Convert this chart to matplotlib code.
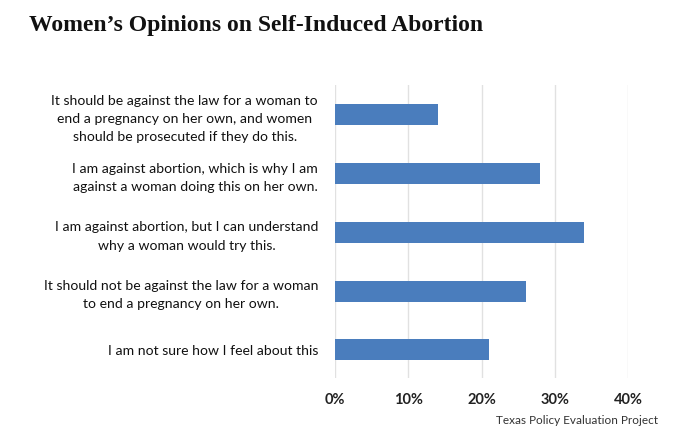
import matplotlib
matplotlib.use("Agg")
import matplotlib.pyplot as plt
from matplotlib.ticker import FuncFormatter

categories = [
    "It should be against the law for a woman to\nend a pregnancy on her own, and women\nshould be prosecuted if they do this.",
    "I am against abortion, which is why I am\nagainst a woman doing this on her own.",
    "I am against abortion, but I can understand\nwhy a woman would try this.",
    "It should not be against the law for a woman\nto end a pregnancy on her own.",
    "I am not sure how I feel about this",
]
values = [14, 28, 34, 26, 21]
xticks = [0, 10, 20, 30, 40]

title = "Women\u2019s Opinions on Self-Induced Abortion"
source = "Texas Policy Evaluation Project"

fig = plt.figure(figsize=(6.82, 4.41), dpi=100)
ax = fig.add_axes([0.4908, 0.1429, 0.4306, 0.6644])

ypos = list(range(len(categories)))
ax.barh(ypos, values, height=0.36, color="#4A7DBD", zorder=3)

ax.set_xlim(0, 40)
ax.set_ylim(4.48, -0.51)
ax.set_xticks(xticks)
ax.xaxis.set_major_formatter(FuncFormatter(lambda v, p: f"{int(v)}%"))
ax.set_yticks(ypos)
ax.set_yticklabels(categories, fontfamily="Lato", fontsize=10.05, color="#111111",
                   multialignment="center", linespacing=1.62)
for lbl in ax.get_xticklabels():
    lbl.set_fontfamily("Lato")
    lbl.set_fontweight("bold")
    lbl.set_fontsize(10.5)
    lbl.set_color("#222222")

ax.tick_params(axis="both", length=0)
ax.tick_params(axis="y", pad=12)
ax.tick_params(axis="x", pad=11)
ax.grid(axis="x", color="#e1e1e1", linewidth=1, zorder=0)
for s in ax.spines.values():
    s.set_visible(False)

fig.text(29 / 682, 1 - 25 / 441, title, fontfamily="Liberation Serif",
         fontweight="bold", fontsize=17, color="#111111", va="center", ha="left")
fig.text(658 / 682, 1 - 420 / 441, source, fontfamily="Lato", fontsize=8.5,
         color="#333333", va="center", ha="right")

fig.savefig("out.png", dpi=100)
